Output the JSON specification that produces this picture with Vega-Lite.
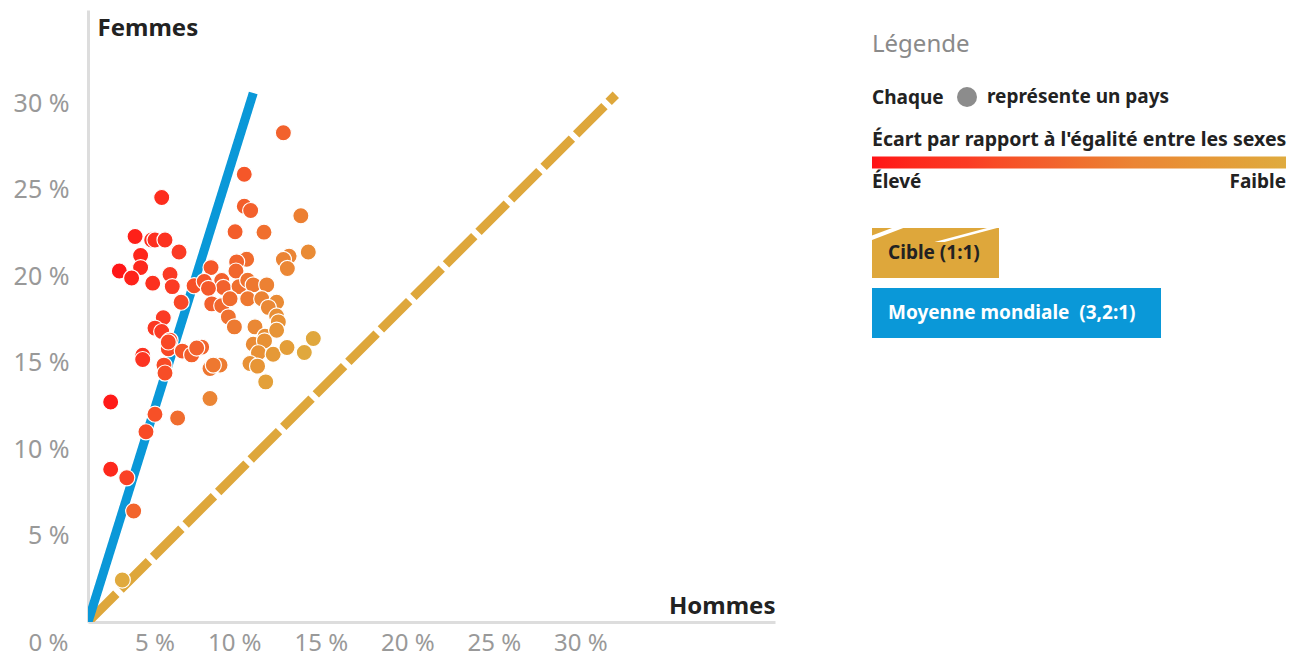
{
  "$schema": "https://vega.github.io/schema/vega-lite/v6.json",
  "width": 687,
  "height": 612,
  "autosize": {"type": "none"},
  "padding": {"left": 88, "top": 10, "right": 526, "bottom": 37},
  "background": "white",
  "config": {"view": {"stroke": null}, "font": "Noto Sans"},
  "title": {"text": "Légende", "anchor": "start", "frame": "group", "dx": 784, "dy": 59, "offset": 0, "baseline": "middle", "fontSize": 24, "fontWeight": "normal", "color": "#8a8a8a", "font": "Noto Sans"},
  "encoding": {
    "x": {
      "field": "hommes", "type": "quantitative",
      "scale": {"domain": [0, 39.7], "nice": false, "zero": true},
      "axis": {
        "title": "Hommes", "values": [0, 5, 10, 15, 20, 25, 30], "labelExpr": "datum.value + ' %'",
        "grid": false, "ticks": false, "domainColor": "#dddddd", "domainWidth": 3,
        "labelColor": "#999999", "labelFontSize": 24, "labelFont": "Noto Sans", "labelAlign": "right",
        "labelPadding": 9, "labelFlush": false, "labelOverlap": false,
        "labelOffset": {"condition": {"test": "datum.value == 0", "value": -20}, "value": 0},
        "titleFont": "Noto Sans", "titleFontSize": 24, "titleFontWeight": "bold", "titleColor": "#222222",
        "titleAnchor": "end", "titleAlign": "right", "titleX": 687, "titleY": -9, "titleBaseline": "alphabetic"
      }
    },
    "y": {
      "field": "femmes", "type": "quantitative",
      "scale": {"domain": [0, 35.4], "nice": false, "zero": true},
      "axis": {
        "title": "Femmes", "values": [5, 10, 15, 20, 25, 30], "labelExpr": "datum.value + ' %'",
        "grid": false, "ticks": false, "domainColor": "#dddddd", "domainWidth": 3,
        "labelColor": "#999999", "labelFontSize": 25, "labelFont": "Noto Sans", "labelPadding": 19,
        "labelOverlap": false, "labelFlush": false,
        "titleFont": "Noto Sans", "titleAngle": 0, "titleX": 9, "titleY": 18, "titleAlign": "left", "titleBaseline": "middle",
        "titleFontSize": 24, "titleFontWeight": "bold", "titleColor": "#222222"
      }
    }
  },
  "layer": [
    {
      "data": {"values": [
        {"serie": "Cible (1:1)", "hommes": 0, "femmes": 0},
        {"serie": "Cible (1:1)", "hommes": 30.5, "femmes": 30.5},
        {"serie": "Moyenne mondiale\u00a0 (3,2:1)", "hommes": 0, "femmes": 0},
        {"serie": "Moyenne mondiale\u00a0 (3,2:1)", "hommes": 9.55, "femmes": 30.6}
      ]},
      "mark": {"type": "line", "strokeWidth": 9, "strokeCap": "butt", "clip": true},
      "encoding": {
        "stroke": {
          "field": "serie", "type": "nominal",
          "scale": {"domain": ["Cible (1:1)", "Moyenne mondiale\u00a0 (3,2:1)"], "range": ["#dea73b", "#0a98d8"]},
          "legend": {
            "orient": "none", "legendX": 784, "legendY": 218, "title": null,
            "symbolSize": 2500, "symbolStrokeWidth": 0, "rowPadding": 10,
            "labelOffset": -34, "labelFontSize": 19, "labelFontWeight": "bold", "labelFont": "Noto Sans", "labelLimit": 400,
            "encode": {
              "symbols": {"update": {
                "shape": {"signal": "datum.value == 'Cible (1:1)' ? 'M-1,-1H4.08V1H-1Z M-1,-0.52L0.25,-1H-0.2L-1,-0.7Z M1.9,-0.44L4.0,-1L3.6,-1L1.5,-0.44Z' : 'M-1,-1H10.56V1H-1Z'"},
                "fill": {"signal": "datum.value == 'Cible (1:1)' ? '#dea73b' : '#0a98d8'"},
                "stroke": {"value": "transparent"},
                "strokeWidth": {"value": 0},
                "strokeDash": {"value": [1, 0]},
                "opacity": {"value": 1}
              }},
              "labels": {"update": {
                "fill": {"signal": "datum.value == 'Cible (1:1)' ? '#222222' : '#ffffff'"}
              }}
            }
          }
        },
        "strokeDash": {
          "field": "serie", "type": "nominal",
          "scale": {"domain": ["Cible (1:1)", "Moyenne mondiale\u00a0 (3,2:1)"], "range": [[40, 6], [1, 0]]},
          "legend": null
        }
      }
    },
    {
      "data": {"values": [
        {"hommes": 4.26, "femmes": 24.55, "parite": 0.17, "type": "pays"},
        {"hommes": 11.29, "femmes": 28.3, "parite": 0.40, "type": "pays"},
        {"hommes": 9.03, "femmes": 25.9, "parite": 0.35, "type": "pays"},
        {"hommes": 9.03, "femmes": 24.05, "parite": 0.38, "type": "pays"},
        {"hommes": 9.4, "femmes": 23.8, "parite": 0.39, "type": "pays"},
        {"hommes": 12.3, "femmes": 23.5, "parite": 0.52, "type": "pays"},
        {"hommes": 8.5, "femmes": 22.57, "parite": 0.38, "type": "pays"},
        {"hommes": 10.17, "femmes": 22.55, "parite": 0.45, "type": "pays"},
        {"hommes": 2.72, "femmes": 22.3, "parite": 0.12, "type": "pays"},
        {"hommes": 3.68, "femmes": 22.1, "parite": 0.17, "type": "pays"},
        {"hommes": 3.87, "femmes": 22.1, "parite": 0.18, "type": "pays"},
        {"hommes": 4.45, "femmes": 22.1, "parite": 0.20, "type": "pays"},
        {"hommes": 3.04, "femmes": 21.2, "parite": 0.14, "type": "pays"},
        {"hommes": 5.26, "femmes": 21.4, "parite": 0.25, "type": "pays"},
        {"hommes": 1.81, "femmes": 20.3, "parite": 0.09, "type": "pays"},
        {"hommes": 3.04, "femmes": 20.5, "parite": 0.15, "type": "pays"},
        {"hommes": 2.52, "femmes": 19.9, "parite": 0.13, "type": "pays"},
        {"hommes": 4.74, "femmes": 20.1, "parite": 0.24, "type": "pays"},
        {"hommes": 3.74, "femmes": 19.6, "parite": 0.19, "type": "pays"},
        {"hommes": 4.87, "femmes": 19.4, "parite": 0.25, "type": "pays"},
        {"hommes": 6.13, "femmes": 19.45, "parite": 0.32, "type": "pays"},
        {"hommes": 5.38, "femmes": 18.5, "parite": 0.29, "type": "pays"},
        {"hommes": 4.35, "femmes": 17.6, "parite": 0.25, "type": "pays"},
        {"hommes": 3.87, "femmes": 17.0, "parite": 0.23, "type": "pays"},
        {"hommes": 4.26, "femmes": 16.8, "parite": 0.25, "type": "pays"},
        {"hommes": 4.74, "femmes": 16.3, "parite": 0.29, "type": "pays"},
        {"hommes": 3.16, "femmes": 15.43, "parite": 0.20, "type": "pays"},
        {"hommes": 3.16, "femmes": 15.18, "parite": 0.21, "type": "pays"},
        {"hommes": 4.39, "femmes": 14.86, "parite": 0.30, "type": "pays"},
        {"hommes": 4.45, "femmes": 14.4, "parite": 0.31, "type": "pays"},
        {"hommes": 4.64, "femmes": 15.8, "parite": 0.29, "type": "pays"},
        {"hommes": 5.45, "femmes": 15.67, "parite": 0.35, "type": "pays"},
        {"hommes": 5.99, "femmes": 15.45, "parite": 0.39, "type": "pays"},
        {"hommes": 6.57, "femmes": 15.9, "parite": 0.41, "type": "pays"},
        {"hommes": 6.28, "femmes": 15.85, "parite": 0.40, "type": "pays"},
        {"hommes": 1.31, "femmes": 12.73, "parite": 0.10, "type": "pays"},
        {"hommes": 3.87, "femmes": 12.02, "parite": 0.32, "type": "pays"},
        {"hommes": 3.35, "femmes": 11.0, "parite": 0.30, "type": "pays"},
        {"hommes": 5.18, "femmes": 11.8, "parite": 0.44, "type": "pays"},
        {"hommes": 7.05, "femmes": 14.66, "parite": 0.48, "type": "pays"},
        {"hommes": 7.05, "femmes": 12.93, "parite": 0.55, "type": "pays"},
        {"hommes": 1.31, "femmes": 8.84, "parite": 0.15, "type": "pays"},
        {"hommes": 2.24, "femmes": 8.34, "parite": 0.27, "type": "pays"},
        {"hommes": 2.64, "femmes": 6.42, "parite": 0.41, "type": "pays"},
        {"hommes": 1.98, "femmes": 2.43, "parite": 0.81, "type": "pays"},
        {"hommes": 9.17, "femmes": 20.98, "parite": 0.44, "type": "pays"},
        {"hommes": 8.59, "femmes": 20.83, "parite": 0.41, "type": "pays"},
        {"hommes": 8.55, "femmes": 20.3, "parite": 0.42, "type": "pays"},
        {"hommes": 11.62, "femmes": 21.16, "parite": 0.55, "type": "pays"},
        {"hommes": 11.29, "femmes": 20.97, "parite": 0.54, "type": "pays"},
        {"hommes": 11.52, "femmes": 20.45, "parite": 0.56, "type": "pays"},
        {"hommes": 12.73, "femmes": 21.4, "parite": 0.59, "type": "pays"},
        {"hommes": 7.11, "femmes": 20.5, "parite": 0.35, "type": "pays"},
        {"hommes": 7.73, "femmes": 19.75, "parite": 0.39, "type": "pays"},
        {"hommes": 7.82, "femmes": 19.35, "parite": 0.40, "type": "pays"},
        {"hommes": 8.73, "femmes": 19.4, "parite": 0.45, "type": "pays"},
        {"hommes": 9.23, "femmes": 19.77, "parite": 0.47, "type": "pays"},
        {"hommes": 9.55, "femmes": 19.5, "parite": 0.49, "type": "pays"},
        {"hommes": 10.33, "femmes": 19.5, "parite": 0.53, "type": "pays"},
        {"hommes": 6.72, "femmes": 19.7, "parite": 0.34, "type": "pays"},
        {"hommes": 6.96, "femmes": 19.3, "parite": 0.36, "type": "pays"},
        {"hommes": 7.15, "femmes": 18.4, "parite": 0.39, "type": "pays"},
        {"hommes": 7.73, "femmes": 18.3, "parite": 0.42, "type": "pays"},
        {"hommes": 8.21, "femmes": 18.7, "parite": 0.44, "type": "pays"},
        {"hommes": 9.23, "femmes": 18.7, "parite": 0.49, "type": "pays"},
        {"hommes": 10.04, "femmes": 18.7, "parite": 0.54, "type": "pays"},
        {"hommes": 10.9, "femmes": 18.5, "parite": 0.59, "type": "pays"},
        {"hommes": 10.42, "femmes": 18.2, "parite": 0.57, "type": "pays"},
        {"hommes": 8.11, "femmes": 17.65, "parite": 0.46, "type": "pays"},
        {"hommes": 10.9, "femmes": 17.7, "parite": 0.62, "type": "pays"},
        {"hommes": 11.0, "femmes": 17.36, "parite": 0.63, "type": "pays"},
        {"hommes": 8.46, "femmes": 17.07, "parite": 0.50, "type": "pays"},
        {"hommes": 9.65, "femmes": 17.07, "parite": 0.57, "type": "pays"},
        {"hommes": 10.23, "femmes": 16.53, "parite": 0.62, "type": "pays"},
        {"hommes": 10.9, "femmes": 16.88, "parite": 0.65, "type": "pays"},
        {"hommes": 13.02, "femmes": 16.4, "parite": 0.79, "type": "pays"},
        {"hommes": 9.55, "femmes": 16.07, "parite": 0.59, "type": "pays"},
        {"hommes": 10.2, "femmes": 16.26, "parite": 0.63, "type": "pays"},
        {"hommes": 9.85, "femmes": 15.57, "parite": 0.63, "type": "pays"},
        {"hommes": 10.7, "femmes": 15.49, "parite": 0.69, "type": "pays"},
        {"hommes": 11.5, "femmes": 15.88, "parite": 0.72, "type": "pays"},
        {"hommes": 12.5, "femmes": 15.59, "parite": 0.80, "type": "pays"},
        {"hommes": 9.36, "femmes": 14.95, "parite": 0.63, "type": "pays"},
        {"hommes": 9.8, "femmes": 14.8, "parite": 0.66, "type": "pays"},
        {"hommes": 10.27, "femmes": 13.89, "parite": 0.74, "type": "pays"},
        {"hommes": 7.63, "femmes": 14.86, "parite": 0.51, "type": "pays"},
        {"hommes": 7.24, "femmes": 14.86, "parite": 0.49, "type": "pays"},
        {"hommes": 4.64, "femmes": 16.2, "parite": 0.29, "type": "pays"}
      ]},
      "mark": {"type": "point", "filled": true, "size": 260, "opacity": 1, "stroke": "white", "strokeWidth": 1.2},
      "encoding": {
        "color": {
          "field": "parite", "type": "quantitative",
          "scale": {"type": "linear", "domain": [0.08, 0.25, 0.4, 0.55, 0.82], "range": ["#ff1216", "#fb3b24", "#f2622d", "#eb8535", "#dfab3f"], "clamp": true, "zero": false, "nice": false},
          "legend": {
            "type": "gradient", "orient": "none", "legendX": 784, "legendY": 121, "direction": "horizontal",
            "title": "Écart par rapport à l'égalité entre les sexes",
            "titleFont": "Noto Sans", "titleFontSize": 19.5, "titleFontWeight": "bold", "titleColor": "#222222", "titlePadding": 6, "titleLimit": 600,
            "gradientLength": 414, "gradientThickness": 12, "gradientStrokeWidth": 0,
            "values": [0.08, 0.82], "labelExpr": "datum.value < 0.5 ? 'Élevé' : 'Faible'",
            "labelFont": "Noto Sans", "labelFontSize": 19, "labelFontWeight": "bold", "labelColor": "#222222", "labelOffset": 4, "labelOverlap": false, "labelLimit": 200,
            "encode": {"gradient": {"update": {"cornerRadius": {"value": 6}}}}
          }
        },
        "shape": {
          "field": "type", "type": "nominal",
          "scale": {"range": ["circle"]},
          "legend": {
            "orient": "none", "legendX": 784, "legendY": 76,
            "title": "Chaque", "titleOrient": "left", "titleFont": "Noto Sans", "titleFontSize": 19, "titleFontWeight": "bold", "titleColor": "#222222", "titlePadding": 12,
            "symbolSize": 400, "symbolFillColor": "#8c8c8c", "symbolStrokeColor": "transparent", "labelExpr": "'représente un pays'",
            "labelFont": "Noto Sans", "labelFontSize": 19, "labelFontWeight": "bold", "labelColor": "#222222", "labelOffset": 9, "labelLimit": 400,
            "encode": {"symbols": {
              "enter": {"fill": {"value": "#8c8c8c"}},
              "update": {"fill": {"value": "#8c8c8c"}, "stroke": {"value": "transparent"}, "strokeWidth": {"value": 0}, "opacity": {"value": 1}}
            }}
          }
        }
      }
    }
  ]
}
